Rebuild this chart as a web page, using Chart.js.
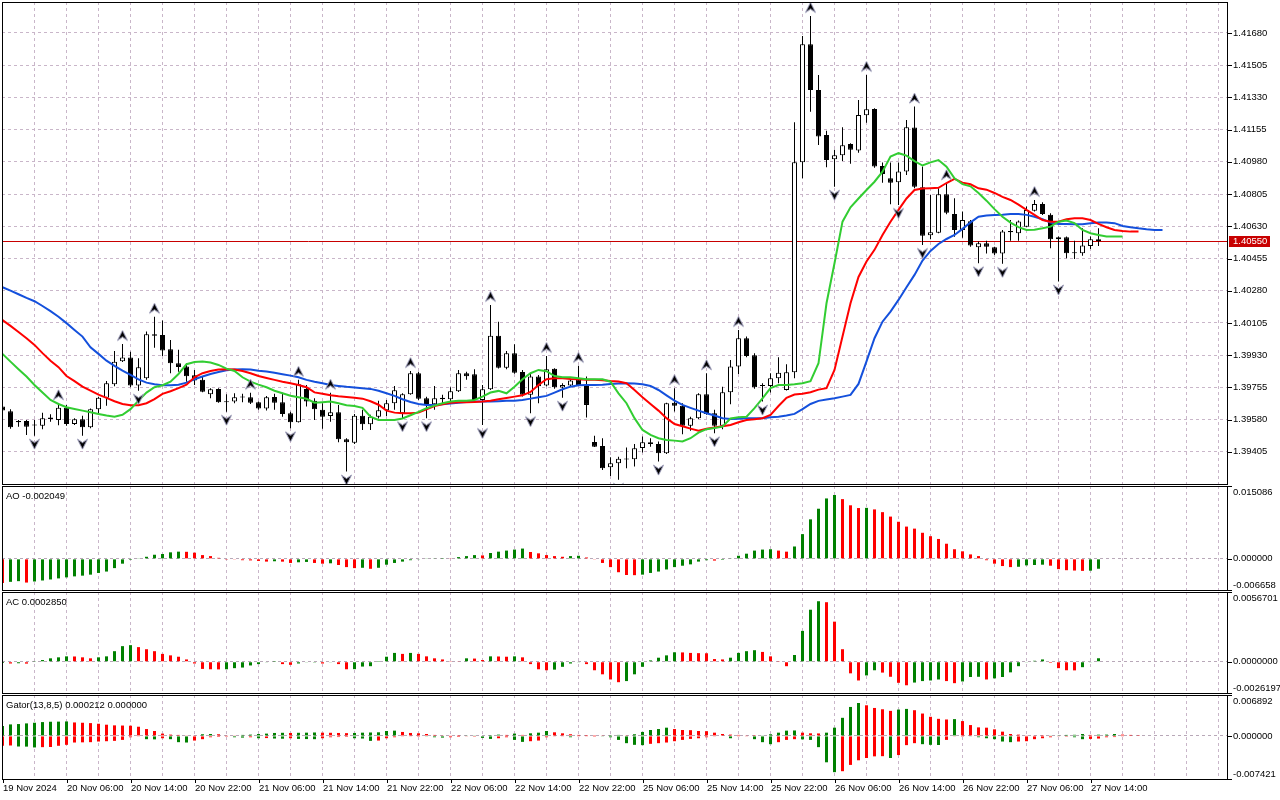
<!DOCTYPE html>
<html>
<head>
<meta charset="utf-8">
<title>H1 chart - Alligator, Fractals, AO, AC, Gator</title>
<script src="https://cdn.jsdelivr.net/npm/chart.js@4.4.1/dist/chart.umd.min.js"></script>
<style>
  html, body { margin: 0; padding: 0; background: #fff; }
  #wrap { position: relative; width: 1280px; height: 800px; overflow: hidden; background: #fff; }
  #wrap canvas { position: absolute; left: 0; }
</style>
</head>
<body>
<div id="wrap">
  <canvas id="main"></canvas>
  <canvas id="ao"></canvas>
  <canvas id="ac"></canvas>
  <canvas id="gator"></canvas>
</div>
<script>
// H1 candles, one per hour from 19 Nov 22:00 (bar 0) to 27 Nov 15:00 (bar 137)
const opens = [
  1.39651, 1.39626, 1.39573, 1.39573, 1.39550, 1.39547, 1.39591, 1.39578, 1.39645, 1.39556,
  1.39582, 1.39539, 1.39636, 1.39699, 1.39772, 1.39897, 1.39918, 1.39765, 1.39805, 1.40044,
  1.40040, 1.39962, 1.39886, 1.39869, 1.39821, 1.39796, 1.39718, 1.39747, 1.39675, 1.39679,
  1.39701, 1.39701, 1.39675, 1.39640, 1.39703, 1.39675, 1.39615, 1.39566, 1.39747, 1.39682,
  1.39633, 1.39600, 1.39620, 1.39474, 1.39455, 1.39601, 1.39555, 1.39595, 1.39631, 1.39669,
  1.39615, 1.39718, 1.39832, 1.39696, 1.39664, 1.39699, 1.39691, 1.39734, 1.39832, 1.39827,
  1.39687, 1.39745, 1.40035, 1.39862, 1.39941, 1.39838, 1.39715, 1.39814, 1.39765, 1.39856,
  1.39754, 1.39765, 1.39796, 1.39768, 1.39459, 1.39437, 1.39322, 1.39343, 1.39365, 1.39365,
  1.39426, 1.39457, 1.39448, 1.39398, 1.39672, 1.39656, 1.39547, 1.39588, 1.39718, 1.39615,
  1.39547, 1.39729, 1.39868, 1.40022, 1.39930, 1.39768, 1.39763, 1.39805, 1.39741, 1.39837,
  1.40978, 1.41618, 1.41370, 1.41126, 1.40994, 1.41016, 1.41077, 1.41041, 1.41233, 1.41267,
  1.40958, 1.40891, 1.40869, 1.40927, 1.41166, 1.40842, 1.40581, 1.40595, 1.40804, 1.40697,
  1.40610, 1.40657, 1.40516, 1.40538, 1.40516, 1.40482, 1.40604, 1.40592, 1.40628, 1.40715,
  1.40751, 1.40692, 1.40560, 1.40570, 1.40484, 1.40484, 1.40523, 1.40560
];
const highs = [
  1.39660, 1.39636, 1.39578, 1.39578, 1.39578, 1.39618, 1.39609, 1.39669, 1.39660, 1.39588,
  1.39601, 1.39641, 1.39704, 1.39790, 1.39953, 1.39991, 1.39948, 1.39913, 1.40058, 1.40139,
  1.40118, 1.40013, 1.39959, 1.39886, 1.39850, 1.39817, 1.39751, 1.39751, 1.39718, 1.39723,
  1.39720, 1.39726, 1.39678, 1.39708, 1.39720, 1.39726, 1.39623, 1.39796, 1.39768, 1.39696,
  1.39669, 1.39726, 1.39660, 1.39479, 1.39611, 1.39633, 1.39606, 1.39682, 1.39687, 1.39763,
  1.39723, 1.39844, 1.39840, 1.39704, 1.39763, 1.39715, 1.39756, 1.39850, 1.39840, 1.39854,
  1.39768, 1.40203, 1.40112, 1.39953, 1.39990, 1.39850, 1.39832, 1.39823, 1.39926, 1.39859,
  1.39777, 1.39799, 1.39872, 1.39814, 1.39493, 1.39479, 1.39376, 1.39379, 1.39428, 1.39448,
  1.39488, 1.39479, 1.39461, 1.39672, 1.39751, 1.39669, 1.39596, 1.39723, 1.39832, 1.39633,
  1.39759, 1.39904, 1.40067, 1.40031, 1.39941, 1.39778, 1.39832, 1.39919, 1.39881, 1.41195,
  1.41663, 1.41772, 1.41452, 1.41149, 1.41045, 1.41168, 1.41081, 1.41316, 1.41452, 1.41271,
  1.40976, 1.40976, 1.40976, 1.41207, 1.41280, 1.40954, 1.40800, 1.40837, 1.40864, 1.40782,
  1.40710, 1.40664, 1.40547, 1.40552, 1.40519, 1.40610, 1.40664, 1.40661, 1.40737, 1.40773,
  1.40760, 1.40701, 1.40575, 1.40574, 1.40552, 1.40619, 1.40574, 1.40619
];
const lows = [
  1.39622, 1.39531, 1.39542, 1.39497, 1.39493, 1.39528, 1.39569, 1.39550, 1.39547, 1.39551,
  1.39493, 1.39533, 1.39615, 1.39656, 1.39761, 1.39893, 1.39756, 1.39737, 1.39796, 1.39970,
  1.39926, 1.39832, 1.39840, 1.39786, 1.39768, 1.39729, 1.39696, 1.39672, 1.39623, 1.39669,
  1.39675, 1.39665, 1.39633, 1.39629, 1.39633, 1.39596, 1.39533, 1.39564, 1.39651, 1.39578,
  1.39531, 1.39568, 1.39457, 1.39298, 1.39447, 1.39524, 1.39524, 1.39586, 1.39600, 1.39633,
  1.39588, 1.39715, 1.39687, 1.39588, 1.39633, 1.39669, 1.39681, 1.39730, 1.39796, 1.39679,
  1.39551, 1.39741, 1.39857, 1.39854, 1.39829, 1.39705, 1.39615, 1.39669, 1.39761, 1.39748,
  1.39699, 1.39761, 1.39763, 1.39591, 1.39431, 1.39307, 1.39274, 1.39253, 1.39316, 1.39325,
  1.39401, 1.39433, 1.39352, 1.39394, 1.39624, 1.39501, 1.39520, 1.39584, 1.39606, 1.39506,
  1.39528, 1.39664, 1.39828, 1.39919, 1.39748, 1.39678, 1.39727, 1.39778, 1.39738, 1.39805,
  1.40891, 1.41252, 1.41072, 1.40950, 1.40845, 1.40985, 1.40970, 1.41030, 1.41192, 1.40948,
  1.40867, 1.40749, 1.40746, 1.40909, 1.40837, 1.40529, 1.40560, 1.40592, 1.40695, 1.40573,
  1.40568, 1.40519, 1.40429, 1.40482, 1.40474, 1.40426, 1.40552, 1.40552, 1.40625, 1.40710,
  1.40691, 1.40511, 1.40330, 1.40456, 1.40453, 1.40470, 1.40506, 1.40523
];
const closes = [
  1.39629, 1.39539, 1.39566, 1.39542, 1.39548, 1.39588, 1.39584, 1.39645, 1.39556, 1.39582,
  1.39539, 1.39636, 1.39699, 1.39777, 1.39895, 1.39918, 1.39765, 1.39865, 1.40044, 1.40036,
  1.39955, 1.39886, 1.39866, 1.39815, 1.39792, 1.39732, 1.39745, 1.39675, 1.39674, 1.39701,
  1.39700, 1.39672, 1.39640, 1.39701, 1.39672, 1.39611, 1.39566, 1.39772, 1.39678, 1.39636,
  1.39596, 1.39620, 1.39474, 1.39457, 1.39601, 1.39555, 1.39596, 1.39631, 1.39669, 1.39739,
  1.39718, 1.39832, 1.39693, 1.39660, 1.39696, 1.39691, 1.39734, 1.39832, 1.39815, 1.39687,
  1.39745, 1.40035, 1.39862, 1.39941, 1.39835, 1.39715, 1.39814, 1.39761, 1.39854, 1.39756,
  1.39768, 1.39792, 1.39768, 1.39660, 1.39433, 1.39316, 1.39343, 1.39367, 1.39364, 1.39425,
  1.39457, 1.39447, 1.39398, 1.39669, 1.39656, 1.39547, 1.39588, 1.39718, 1.39611, 1.39547,
  1.39729, 1.39868, 1.40022, 1.39926, 1.39756, 1.39763, 1.39805, 1.39835, 1.39837, 1.40978,
  1.41618, 1.41370, 1.41117, 1.40990, 1.41016, 1.41070, 1.41045, 1.41235, 1.41266, 1.40954,
  1.40914, 1.40867, 1.40927, 1.41168, 1.40845, 1.40579, 1.40598, 1.40804, 1.40704, 1.40610,
  1.40664, 1.40525, 1.40538, 1.40519, 1.40482, 1.40601, 1.40598, 1.40656, 1.40719, 1.40751,
  1.40697, 1.40560, 1.40570, 1.40484, 1.40483, 1.40525, 1.40560, 1.40550
];

// Alligator lines as drawn (already shifted forward 8 / 5 / 3 bars)
const jaw = [
  1.40299, 1.40281, 1.40261, 1.40241, 1.40223, 1.40197, 1.40169, 1.40139, 1.40104, 1.40067,
  1.40031, 1.39973, 1.39937, 1.39900, 1.39872, 1.39846, 1.39823, 1.39799, 1.39781, 1.39772,
  1.39767, 1.39767, 1.39770, 1.39781, 1.39799, 1.39814, 1.39828, 1.39839, 1.39848, 1.39852,
  1.39854, 1.39852, 1.39846, 1.39841, 1.39834, 1.39827, 1.39819, 1.39810, 1.39796, 1.39786,
  1.39778, 1.39768, 1.39763, 1.39758, 1.39754, 1.39750, 1.39747, 1.39737, 1.39723, 1.39709,
  1.39691, 1.39676, 1.39665, 1.39660, 1.39660, 1.39664, 1.39667, 1.39672, 1.39676, 1.39678,
  1.39678, 1.39678, 1.39680, 1.39682, 1.39683, 1.39687, 1.39694, 1.39702, 1.39709, 1.39727,
  1.39745, 1.39759, 1.39767, 1.39768, 1.39768, 1.39770, 1.39774, 1.39776, 1.39778, 1.39776,
  1.39772, 1.39763, 1.39741, 1.39712, 1.39683, 1.39660, 1.39644, 1.39629, 1.39615, 1.39602,
  1.39588, 1.39584, 1.39585, 1.39588, 1.39588, 1.39588, 1.39593, 1.39596, 1.39602, 1.39611,
  1.39637, 1.39665, 1.39682, 1.39689, 1.39696, 1.39705, 1.39714, 1.39774, 1.39896, 1.40022,
  1.40112, 1.40167, 1.40230, 1.40299, 1.40366, 1.40444, 1.40496, 1.40534, 1.40561, 1.40583,
  1.40616, 1.40651, 1.40682, 1.40688, 1.40691, 1.40692, 1.40697, 1.40697, 1.40692, 1.40682,
  1.40668, 1.40650, 1.40643, 1.40643, 1.40641, 1.40641, 1.40647, 1.40650, 1.40650, 1.40647,
  1.40632, 1.40625, 1.40619, 1.40614, 1.40610, 1.40610
];
const teeth = [
  1.40121, 1.40089, 1.40056, 1.40022, 1.39986, 1.39941, 1.39900, 1.39865, 1.39817, 1.39789,
  1.39759, 1.39737, 1.39716, 1.39698, 1.39680, 1.39665, 1.39658, 1.39658, 1.39669, 1.39691,
  1.39720, 1.39734, 1.39751, 1.39770, 1.39810, 1.39832, 1.39844, 1.39852, 1.39854, 1.39852,
  1.39844, 1.39832, 1.39817, 1.39806, 1.39796, 1.39786, 1.39778, 1.39768, 1.39756, 1.39728,
  1.39720, 1.39712, 1.39707, 1.39703, 1.39699, 1.39694, 1.39680, 1.39661, 1.39629, 1.39618,
  1.39615, 1.39615, 1.39618, 1.39636, 1.39654, 1.39664, 1.39672, 1.39675, 1.39675, 1.39676,
  1.39678, 1.39683, 1.39691, 1.39698, 1.39705, 1.39712, 1.39730, 1.39768, 1.39799, 1.39805,
  1.39805, 1.39801, 1.39799, 1.39797, 1.39796, 1.39794, 1.39790, 1.39787, 1.39778, 1.39741,
  1.39702, 1.39665, 1.39629, 1.39588, 1.39556, 1.39544, 1.39531, 1.39520, 1.39530, 1.39537,
  1.39544, 1.39551, 1.39566, 1.39578, 1.39582, 1.39588, 1.39606, 1.39654, 1.39698, 1.39716,
  1.39721, 1.39729, 1.39743, 1.39751, 1.39850, 1.40031, 1.40212, 1.40355, 1.40439, 1.40502,
  1.40583, 1.40655, 1.40719, 1.40781, 1.40827, 1.40835, 1.40837, 1.40839, 1.40865, 1.40888,
  1.40867, 1.40858, 1.40836, 1.40829, 1.40811, 1.40790, 1.40773, 1.40748, 1.40719, 1.40692,
  1.40664, 1.40655, 1.40655, 1.40668, 1.40674, 1.40674, 1.40664, 1.40643, 1.40625, 1.40610,
  1.40605, 1.40601, 1.40601
];
const lips = [
  1.39937, 1.39895, 1.39854, 1.39814, 1.39768, 1.39727, 1.39687, 1.39665, 1.39647, 1.39638,
  1.39629, 1.39620, 1.39611, 1.39602, 1.39596, 1.39606, 1.39637, 1.39683, 1.39727, 1.39756,
  1.39767, 1.39786, 1.39828, 1.39881, 1.39893, 1.39895, 1.39890, 1.39877, 1.39857, 1.39844,
  1.39810, 1.39786, 1.39770, 1.39756, 1.39737, 1.39723, 1.39710, 1.39702, 1.39693, 1.39672,
  1.39675, 1.39678, 1.39669, 1.39658, 1.39654, 1.39644, 1.39596, 1.39578, 1.39578, 1.39578,
  1.39586, 1.39604, 1.39622, 1.39642, 1.39656, 1.39669, 1.39678, 1.39682, 1.39683, 1.39687,
  1.39705, 1.39727, 1.39736, 1.39723, 1.39759, 1.39799, 1.39832, 1.39850, 1.39843, 1.39817,
  1.39810, 1.39810, 1.39805, 1.39799, 1.39799, 1.39799, 1.39786, 1.39723, 1.39669, 1.39588,
  1.39524, 1.39497, 1.39479, 1.39470, 1.39466, 1.39461, 1.39479, 1.39509, 1.39528, 1.39535,
  1.39542, 1.39586, 1.39593, 1.39596, 1.39642, 1.39696, 1.39751, 1.39768, 1.39768, 1.39772,
  1.39778, 1.39789, 1.39886, 1.40212, 1.40429, 1.40655, 1.40733, 1.40781, 1.40827, 1.40872,
  1.40927, 1.41009, 1.41027, 1.41014, 1.40984, 1.40960, 1.40977, 1.40990, 1.40954, 1.40891,
  1.40859, 1.40847, 1.40811, 1.40769, 1.40723, 1.40682, 1.40650, 1.40625, 1.40610, 1.40611,
  1.40619, 1.40628, 1.40655, 1.40661, 1.40647, 1.40610, 1.40592, 1.40583, 1.40574, 1.40574,
  1.40574
];

// bars that carry a fractal arrow
const fractalUp = [7, 15, 19, 31, 37, 41, 51, 61, 68, 72, 84, 88, 92, 101, 108, 114, 118, 129];
const fractalDown = [4, 10, 17, 28, 36, 43, 50, 53, 60, 66, 70, 77, 82, 89, 95, 104, 112, 115, 122, 125, 132];

// Awesome Oscillator
const aoValues = [
  -0.00498, -0.00476, -0.00462, -0.00491, -0.00469, -0.00448, -0.00427, -0.00405, -0.00384, -0.00363,
  -0.00348, -0.00327, -0.00292, -0.00263, -0.00192, -0.00100, -0.00021, 0.00007, 0.00043, 0.00085,
  0.00100, 0.00135, 0.00149, 0.00146, 0.00128, 0.00078, 0.00057, 0.00021, -0.00004, -0.00014,
  -0.00028, -0.00032, -0.00043, -0.00057, -0.00050, -0.00058, -0.00085, -0.00071, -0.00064, -0.00085,
  -0.00100, -0.00092, -0.00128, -0.00171, -0.00192, -0.00185, -0.00206, -0.00185, -0.00121, -0.00085,
  -0.00057, -0.00028, -0.00007, 0.00007, 0.00014, 0.00018, 0.00014, 0.00036, 0.00057, 0.00078,
  0.00071, 0.00121, 0.00149, 0.00171, 0.00192, 0.00213, 0.00142, 0.00114, 0.00078, 0.00057,
  0.00043, 0.00057, 0.00064, 0.00028, -0.00014, -0.00085, -0.00171, -0.00277, -0.00334, -0.00338,
  -0.00327, -0.00292, -0.00263, -0.00220, -0.00171, -0.00142, -0.00114, -0.00057, -0.00028, -0.00036,
  -0.00021, 0.00007, 0.00064, 0.00107, 0.00171, 0.00192, 0.00199, 0.00171, 0.00149, 0.00256,
  0.00512, 0.00818, 0.01038, 0.01251, 0.01322, 0.01237, 0.01109, 0.01052, 0.01056, 0.01024,
  0.00967, 0.00875, 0.00768, 0.00668, 0.00626, 0.00540, 0.00469, 0.00412, 0.00313, 0.00199,
  0.00156, 0.00092, 0.00057, -0.00028, -0.00100, -0.00149, -0.00171, -0.00164, -0.00135, -0.00128,
  -0.00121, -0.00142, -0.00213, -0.00235, -0.00242, -0.00249, -0.00245, -0.002049
];
// Accelerator Oscillator
const acValues = [
  -0.00011, -0.00014, -0.00012, -0.00015, 0.00006, 0.00014, 0.00028, 0.00036, 0.00044, 0.00043,
  0.00036, 0.00028, 0.00036, 0.00044, 0.00086, 0.00127, 0.00135, 0.00119, 0.00102, 0.00086,
  0.00064, 0.00052, 0.00041, 0.00019, -0.00014, -0.00058, -0.00061, -0.00062, -0.00061, -0.00052,
  -0.00047, -0.00030, -0.00019, -0.00003, 0.00001, -0.00019, -0.00025, -0.00014, -0.00003, -0.00002,
  -0.00014, -0.00003, -0.00019, -0.00061, -0.00060, -0.00039, -0.00036, 0.00001, 0.00041, 0.00072,
  0.00064, 0.00072, 0.00064, 0.00044, 0.00028, 0.00019, 0.00006, 0.00003, 0.00028, 0.00026,
  0.00014, 0.00044, 0.00043, 0.00041, 0.00044, 0.00036, -0.00019, -0.00061, -0.00069, -0.00064,
  -0.00041, -0.00014, -0.00003, -0.00019, -0.00069, -0.00102, -0.00144, -0.00166, -0.00157, -0.00102,
  -0.00041, 0.00011, 0.00033, 0.00052, 0.00077, 0.00076, 0.00072, 0.00070, 0.00069, 0.00022,
  0.00019, 0.00033, 0.00072, 0.00086, 0.00094, 0.00080, 0.00044, 0.00006, -0.00036, 0.00055,
  0.00251, 0.00423, 0.00492, 0.00484, 0.00326, 0.00102, -0.00094, -0.00152, -0.00111, -0.00069,
  -0.00088, -0.00122, -0.00171, -0.00191, -0.00169, -0.00157, -0.00152, -0.00144, -0.00157, -0.00174,
  -0.00160, -0.00124, -0.00122, -0.00144, -0.00135, -0.00124, -0.00086, -0.00036, -0.00003, 0.00008,
  0.00019, -0.00008, -0.00052, -0.00069, -0.00070, -0.00044, -0.00003, 0.000285
];
// Gator oscillator, upper histogram (|jaw - teeth|) and lower histogram (-|teeth - lips|)
const gatorUp = [
  0.00166, 0.00194, 0.00200, 0.00211, 0.00222, 0.00233, 0.00239, 0.00241, 0.00244, 0.00227,
  0.00222, 0.00216, 0.00205, 0.00189, 0.00178, 0.00175, 0.00172, 0.00155, 0.00116, 0.00083,
  0.00039, 0.00022, 0.00017, 0.00011, 0.00006, 0.00028, 0.00033, 0.00028, 0.00011, 0.00006,
  0.00017, 0.00022, 0.00033, 0.00039, 0.00050, 0.00053, 0.00050, 0.00053, 0.00055, 0.00058,
  0.00055, 0.00053, 0.00050, 0.00047, 0.00050, 0.00055, 0.00058, 0.00061, 0.00083, 0.00089,
  0.00067, 0.00050, 0.00044, 0.00033, 0.00017, 0.00011, 0.00006, 0.00003, 0.00006, 0.00011,
  0.00008, 0.00014, 0.00022, 0.00017, 0.00039, 0.00017, 0.00044, 0.00055, 0.00083, 0.00061,
  0.00044, 0.00028, 0.00017, 0.000155, 0.00014, 0.00011, 0.00014, 0.00017, 0.00011, 0.00028,
  0.00067, 0.00100, 0.00116, 0.00139, 0.00116, 0.00100, 0.00097, 0.00083, 0.00080, 0.00055,
  0.00033, 0.00022, 0.00017, 0.00006, 0.00003, 0.00011, 0.00028, 0.00055, 0.00089, 0.00092,
  0.00055, 0.00044, 0.00042, 0.00055, 0.00139, 0.00305, 0.00488, 0.00555, 0.00516, 0.00471,
  0.00449, 0.00422, 0.00444, 0.00455, 0.00433, 0.00377, 0.00322, 0.00288, 0.00277, 0.00283,
  0.00250, 0.00183, 0.00144, 0.00139, 0.00111, 0.00072, 0.00033, 0.00022, 0.00011, 0.00006,
  0.00003, 0.00006, 0.00011, 0.00017, 0.00019, 0.00033, 0.00017, 0.000212, 0.00022, 0.00033,
  0.00022, 0.00017, 0.00014
];
const gatorDown = [
  -0.00166, -0.00161, -0.00178, -0.00180, -0.00194, -0.00189, -0.00186, -0.00166, -0.00150, -0.00111,
  -0.00108, -0.00105, -0.00094, -0.00089, -0.00083, -0.00067, -0.00022, -0.00011, -0.00055, -0.00058,
  -0.00039, -0.00055, -0.00105, -0.00111, -0.00078, -0.00055, -0.00022, -0.00017, -0.00003, -0.00022,
  -0.00028, -0.00022, -0.00039, -0.00036, -0.00044, -0.00047, -0.00039, -0.00050, -0.00053, -0.00055,
  -0.00039, -0.00022, -0.00019, -0.00017, -0.00039, -0.00044, -0.00083, -0.00078, -0.00039, -0.00022,
  -0.00011, -0.00006, -0.00003, -0.00011, -0.00022, -0.00028, -0.00022, -0.00017, -0.00006, -0.00003,
  -0.00033, -0.00050, -0.00039, -0.00022, -0.00067, -0.00100, -0.00089, -0.00078, -0.00022, -0.00011,
  -0.00006, -0.00022, -0.00011, -0.00006, -0.00003, -0.00011, -0.00022, -0.00067, -0.00122, -0.00150,
  -0.00155, -0.00133, -0.00122, -0.00111, -0.00089, -0.00067, -0.00050, -0.00039, -0.00022, -0.00011,
  -0.00008, -0.00039, -0.00011, -0.00006, -0.00055, -0.00105, -0.00139, -0.00105, -0.00067, -0.00055,
  -0.00058, -0.00067, -0.00189, -0.00444, -0.00610, -0.00594, -0.00488, -0.00410, -0.00372, -0.00344,
  -0.00341, -0.00372, -0.00322, -0.00155, -0.00122, -0.00139, -0.00150, -0.00153, -0.00067, -0.00006,
  -0.00003, -0.00006, -0.00022, -0.00039, -0.00055, -0.00094, -0.00105, -0.00094, -0.00089, -0.00055,
  -0.00039, -0.00022, -0.00006, -0.00003, -0.00022, -0.00055, -0.00050, -0.00044, -0.00022, -0.00019,
  -0.00011
];

// axis labels
const priceTicks = [1.39405, 1.39580, 1.39755, 1.39930, 1.40105, 1.40280, 1.40455,
                    1.40630, 1.40805, 1.40980, 1.41155, 1.41330, 1.41505, 1.41680];
const priceRange = [1.39225, 1.41848];
const aoTicks = [-0.006658, 0, 0.015086];
const acTicks = [-0.0026197, 0, 0.0056701];
const gatorTicks = [-0.007421, 0, 0.006892];
const timeLabels = ['19 Nov 2024', '20 Nov 06:00', '20 Nov 14:00', '20 Nov 22:00', '21 Nov 06:00',
  '21 Nov 14:00', '21 Nov 22:00', '22 Nov 06:00', '22 Nov 14:00', '22 Nov 22:00', '25 Nov 06:00',
  '25 Nov 14:00', '25 Nov 22:00', '26 Nov 06:00', '26 Nov 14:00', '26 Nov 22:00', '27 Nov 06:00',
  '27 Nov 14:00'];
const LABEL_STEP = 8;   // one time label every 8 bars
const GRID_STEP = 4;    // one vertical grid line every 4 bars

// look
const FONT = '9.5px "Liberation Sans", Arial, sans-serif';
const GRID = '#c9b6c9';
const UP = '#008000', DOWN = '#ff0000';
const PRICE_RED = '#c80000';
const X_MIN = -0.0625, X_MAX = 153.1875;   // 8 px per bar over the 1226 px plot

const gridBars = [];
for (let v = 0; v <= X_MAX; v += GRID_STEP) gridBars.push(v);

function xAxis(height) {
  return {
    type: 'linear', min: X_MIN, max: X_MAX, offset: false,
    afterBuildTicks: s => { s.ticks = gridBars.map(v => ({ value: v })); },
    afterFit: s => { s.height = height; },
    grid: { color: GRID, offset: false, drawTicks: false },
    border: { display: false, dash: [3, 3] },
    ticks: { display: false }
  };
}

function yAxis(min, max, tickValues, zeroOnly) {
  return {
    position: 'right', min: min, max: max,
    afterBuildTicks: s => { s.ticks = tickValues.map(v => ({ value: v })); },
    afterFit: s => { s.width = 52; },
    grid: {
      color: zeroOnly ? c => (c.tick && c.tick.value === 0 ? '#b8a8b8' : 'rgba(0,0,0,0)') : GRID,
      drawTicks: false
    },
    border: { display: false, dash: [3, 3] },
    ticks: { display: false }
  };
}

// frame, axis ticks and texts in the MetaTrader manner
function panelPlugin(cfg) {
  return {
    id: 'mtPanel',
    beforeDatasetsDraw(chart) {
      if (cfg.priceLine === undefined) return;
      const { ctx, chartArea: a } = chart;
      const py = Math.round(chart.scales.y.getPixelForValue(cfg.priceLine)) + 0.5;
      ctx.save();
      ctx.strokeStyle = PRICE_RED;
      ctx.lineWidth = 1;
      ctx.beginPath(); ctx.moveTo(a.left, py); ctx.lineTo(a.right, py); ctx.stroke();
      ctx.restore();
    },
    afterDraw(chart) {
      const { ctx, chartArea: a } = chart;
      const ys = chart.scales.y, xs = chart.scales.x;
      ctx.save();
      ctx.strokeStyle = '#000';
      ctx.lineWidth = 1;
      ctx.strokeRect(a.left + 0.5, a.top + 0.5, a.right - a.left - 1, a.bottom - a.top - 1);
      ctx.font = FONT;
      ctx.textAlign = 'left';
      ctx.textBaseline = 'middle';
      ctx.fillStyle = '#000';
      ys.ticks.forEach(t => {
        const p = ys.getPixelForValue(t.value);
        const tp = Math.min(Math.max(Math.round(p), a.top), a.bottom - 1) + 0.5;
        ctx.beginPath(); ctx.moveTo(a.right, tp); ctx.lineTo(a.right + 4, tp); ctx.stroke();
        const lp = Math.min(Math.max(p, a.top + 6), a.bottom - 6);
        ctx.fillText(cfg.format(t.value), a.right + 5, lp);
      });
      if (cfg.title) ctx.fillText(cfg.title, a.left + 4, a.top + 10);
      if (cfg.timeLabels) {
        cfg.timeLabels.forEach((txt, k) => {
          const px = Math.round(xs.getPixelForValue(k * LABEL_STEP)) + 0.5;
          ctx.beginPath(); ctx.moveTo(px, a.bottom); ctx.lineTo(px, a.bottom + 3); ctx.stroke();
          ctx.fillText(txt, px - 0.5, a.bottom + 8);
        });
      }
      if (cfg.priceLine !== undefined) {
        const py = Math.round(ys.getPixelForValue(cfg.priceLine));
        ctx.fillStyle = PRICE_RED;
        ctx.fillRect(a.right + 1, py - 5, 41, 11);
        ctx.fillStyle = '#fff';
        ctx.fillText(cfg.format(cfg.priceLine), a.right + 5, py + 0.5);
      }
      ctx.restore();
    }
  };
}

// fractal arrowhead, drawn off-centre so it sits above the high / below the low
function arrowCanvas(up) {
  const c = document.createElement('canvas');
  c.width = 11; c.height = 29;
  const g = c.getContext('2d');
  g.beginPath();
  if (up) {
    g.moveTo(5.5, 1); g.lineTo(10.5, 11); g.lineTo(5.5, 7.5); g.lineTo(0.5, 11);
  } else {
    g.moveTo(5.5, 28); g.lineTo(10.5, 18); g.lineTo(5.5, 21.5); g.lineTo(0.5, 18);
  }
  g.closePath();
  g.fillStyle = '#000';
  g.fill();
  g.strokeStyle = '#9a9ab8';
  g.lineWidth = 1;
  g.stroke();
  return c;
}

// histogram colours: green when the bar grew, red when it shrank
function barColours(values, first, useAbs) {
  const out = [];
  values.forEach((v, i) => {
    if (i === 0) { out.push(first); return; }
    const a = useAbs ? Math.abs(v) : v, b = useAbs ? Math.abs(values[i - 1]) : values[i - 1];
    out.push(a > b ? UP : a < b ? DOWN : out[i - 1]);
  });
  return out;
}

function setupCanvas(id, top, height) {
  const c = document.getElementById(id);
  c.width = 1280; c.height = height;
  c.style.top = top + 'px';
  c.style.width = '1280px'; c.style.height = height + 'px';
  return c;
}

const baseOptions = (padding) => ({
  responsive: false, animation: false, devicePixelRatio: 1, events: [],
  layout: { padding: padding, autoPadding: false },
  plugins: { legend: { display: false }, tooltip: { enabled: false } }
});

const pts = arr => arr.map((v, i) => ({ x: i, y: v }));
const bars = opens.map((_, i) => i);

// main window: candles, alligator, fractals
const mainOpts = baseOptions({ left: 2, top: 2, right: 0, bottom: 2 });
mainOpts.scales = { x: xAxis(0), y: yAxis(priceRange[0], priceRange[1], priceTicks, false) };
new Chart(setupCanvas('main', 0, 487), {
  type: 'bar',
  data: {
    datasets: [
      { type: 'line', label: 'Fractals up', data: fractalUp.map(i => ({ x: i, y: highs[i] })),
        showLine: false, pointStyle: arrowCanvas(true), pointRadius: 5, order: 1 },
      { type: 'line', label: 'Fractals down', data: fractalDown.map(i => ({ x: i, y: lows[i] })),
        showLine: false, pointStyle: arrowCanvas(false), pointRadius: 5, order: 1 },
      { type: 'line', label: 'Lips', data: pts(lips), borderColor: '#32cd32', borderWidth: 2,
        pointRadius: 0, tension: 0, order: 2 },
      { type: 'line', label: 'Teeth', data: pts(teeth), borderColor: '#ff0000', borderWidth: 2,
        pointRadius: 0, tension: 0, order: 3 },
      { type: 'line', label: 'Jaw', data: pts(jaw), borderColor: '#1450dc', borderWidth: 2,
        pointRadius: 0, tension: 0, order: 4 },
      { label: 'Bodies', data: bars.map(i => ({ x: i, y: [opens[i], closes[i]] })),
        backgroundColor: bars.map(i => (closes[i] > opens[i] ? '#ffffff' : '#000000')),
        borderColor: '#000', borderWidth: 1, borderSkipped: false, barThickness: 5,
        minBarLength: 1, grouped: false, inflateAmount: 0, order: 5 },
      { label: 'Wicks', data: bars.map(i => ({ x: i, y: [lows[i], highs[i]] })),
        backgroundColor: '#000', barThickness: 1, grouped: false, inflateAmount: 0, order: 6 }
    ]
  },
  options: mainOpts,
  plugins: [panelPlugin({ format: v => v.toFixed(5), priceLine: closes[closes.length - 1] })]
});

// one indicator sub-window
function subWindow(id, top, height, padding, ticks, datasets, cfg, xHeight) {
  const opts = baseOptions(padding);
  opts.scales = { x: xAxis(xHeight), y: yAxis(ticks[0], ticks[2], ticks, true) };
  new Chart(setupCanvas(id, top, height), {
    type: 'bar',
    data: { datasets: datasets },
    options: opts,
    plugins: [panelPlugin(cfg)]
  });
}

const histo = (label, values, colours) => ({
  label: label, data: pts(values), backgroundColor: colours,
  barThickness: 3, grouped: false, inflateAmount: 0
});

subWindow('ao', 486, 105, { left: 2, top: 0, right: 0, bottom: 0 }, aoTicks,
  [histo('AO', aoValues, barColours(aoValues, DOWN, false))],
  { title: 'AO ' + aoValues[aoValues.length - 1].toFixed(6), format: v => v.toFixed(6) }, 0);

subWindow('ac', 591, 103, { left: 2, top: 1, right: 0, bottom: 0 }, acTicks,
  [histo('AC', acValues, barColours(acValues, UP, false))],
  { title: 'AC ' + acValues[acValues.length - 1].toFixed(7), format: v => v.toFixed(7) }, 0);

subWindow('gator', 694, 106, { left: 2, top: 1, right: 0, bottom: 0 }, gatorTicks,
  [histo('Gator up', gatorUp, barColours(gatorUp, UP, false)),
   histo('Gator down', gatorDown, barColours(gatorDown, DOWN, true))],
  { title: 'Gator(13,8,5) 0.000212 0.000000', format: v => v.toFixed(6), timeLabels: timeLabels }, 20);
</script>
</body>
</html>
